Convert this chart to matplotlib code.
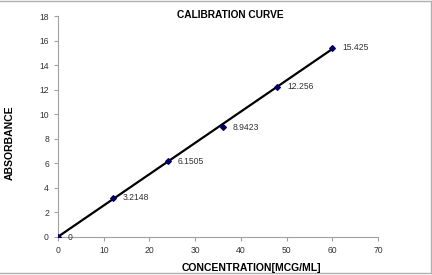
import numpy as np
import matplotlib
matplotlib.use('agg')
import matplotlib.pyplot as plt
from matplotlib.lines import Line2D

# calibration data
conc = [0, 12, 24, 36, 48, 60]
absorb = [0, 3.2148, 6.1505, 8.9423, 12.256, 15.425]
point_labels = ['0', '3.2148', '6.1505', '8.9423', '12.256', '15.425']

plt.rcParams['font.family'] = ['Liberation Sans', 'DejaVu Sans']

fig = plt.figure(figsize=(4.32, 2.75), dpi=100)
ax = fig.add_axes([58/432, 1-237/275, 320/432, 221/275])

# linear trendline
slope, icpt = np.polyfit(conc, absorb, 1)
xs = np.array([min(conc), max(conc)])
ax.plot(xs, slope*xs + icpt, color='black', lw=1.6, zorder=2)

ax.scatter(conc, absorb, marker='D', s=8, color='#000066', zorder=3)
for x, y, t in zip(conc, absorb, point_labels):
    ax.annotate(t, (x, y), xytext=(7, -2), textcoords='offset points',
                fontsize=6.2, color='#333333')

ax.set_xlim(0, 70)
ax.set_ylim(0, 18)
ax.set_xticks(range(0, 71, 10))
ax.set_yticks(range(0, 19, 2))
for s in ['top', 'right']:
    ax.spines[s].set_visible(False)
for s in ['left', 'bottom']:
    ax.spines[s].set_color('#a0a0a0')
    ax.spines[s].set_linewidth(0.8)
ax.tick_params(labelsize=6.2, colors='#a0a0a0', labelcolor='#333333',
               length=3, width=0.8)

fig.text(230/432, 1-15/275, 'CALIBRATION CURVE', ha='center', va='center',
         fontsize=7.3, fontweight='bold')
fig.text(251/432, 1-268/275, 'CONCENTRATION[MCG/ML]', ha='center', va='center',
         fontsize=7.5, fontweight='bold')
fig.text(10/432, 1-143/275, 'ABSORBANCE', ha='center', va='center',
         rotation=90, fontsize=7.5, fontweight='bold')

# outer chart border
bc = '#b0b0b0'
fig.add_artist(Line2D([0, 431/432], [1-0.5/275, 1-0.5/275], color=bc, lw=1, transform=fig.transFigure))
fig.add_artist(Line2D([431/432, 431/432], [1-0.5/275, 1-273/275], color=bc, lw=1, transform=fig.transFigure))
fig.add_artist(Line2D([0, 431/432], [1-273/275, 1-273/275], color=bc, lw=1, transform=fig.transFigure))

plt.savefig('out.png', dpi=100)
